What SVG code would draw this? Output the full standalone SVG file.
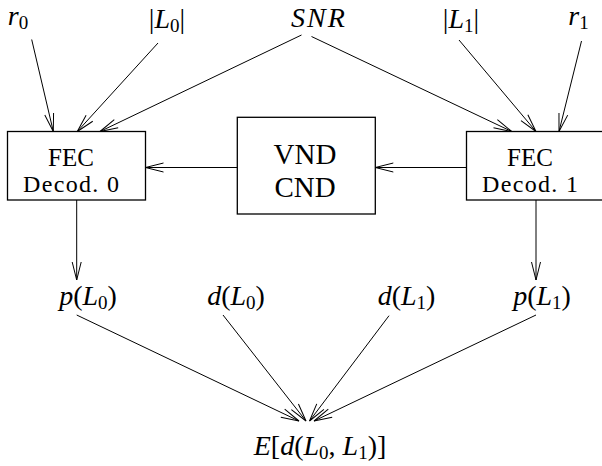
<svg xmlns="http://www.w3.org/2000/svg" width="602" height="466" viewBox="0 0 602 466">
<defs>
<marker id="ah" markerUnits="userSpaceOnUse" markerWidth="24" markerHeight="14" viewBox="-20 -7 22 14" refX="0" refY="0" orient="auto">
<path d="M-18,-4.5 L0,0 L-18,4.5" fill="none" stroke="#000" stroke-width="1"/>
</marker>
</defs>
<style>
.box{fill:#fff;stroke:#000;stroke-width:1.3}
.c line{stroke:#000;stroke-width:1;marker-end:url(#ah)}
text{font-family:'Liberation Serif','DejaVu Serif',serif;fill:#000;text-anchor:middle}
.bt{font-size:24px}
.ft{font-size:25px}
.vt{font-size:29px}
.m{font-size:28px}
.i{font-style:italic}
.s{font-size:19px}
</style>
<rect width="602" height="466" fill="#fff"/>
<g class="c">
<line x1="31.7" y1="39.5" x2="53.3" y2="131.5"/>
<line x1="158" y1="43" x2="77.3" y2="131.5"/>
<line x1="301.5" y1="35" x2="100" y2="131.5"/>
<line x1="311.5" y1="36.5" x2="511.7" y2="131.5"/>
<line x1="459" y1="40" x2="536" y2="131.5"/>
<line x1="581.5" y1="41" x2="559" y2="131.5"/>
<line x1="466.5" y1="167.5" x2="375.3" y2="167.5"/>
<line x1="237.3" y1="167.5" x2="145.5" y2="167.5"/>
<line x1="76.7" y1="200" x2="76.7" y2="280"/>
<line x1="536" y1="200" x2="536" y2="280"/>
<line x1="76.7" y1="315" x2="299" y2="421"/>
<line x1="223" y1="315" x2="306" y2="421"/>
<line x1="389" y1="315.7" x2="309.5" y2="421"/>
<line x1="536" y1="315" x2="314" y2="421"/>
</g>
<g id="fec0">
<rect class="box" x="7.5" y="131.5" width="138" height="68.5"/>
<text class="ft" x="71" y="166">FEC</text>
<text class="bt" x="71" y="192" textLength="96">Decod. 0</text>
</g>
<g id="vnd">
<rect class="box" x="237.3" y="117.3" width="138" height="96.7"/>
<text class="vt" x="305" y="164">VND</text>
<text class="vt" x="305" y="197">CND</text>
</g>
<g id="fec1">
<rect class="box" x="466.5" y="131.5" width="138" height="68.5"/>
<text class="ft" x="530" y="166">FEC</text>
<text class="bt" x="530" y="192" textLength="96">Decod. 1</text>
</g>
<g id="r0"><text class="m" x="18" y="25"><tspan class="i">r</tspan><tspan class="s" dy="4">0</tspan></text></g>
<g id="absL0"><text class="m" x="167" y="28">|<tspan class="i">L</tspan><tspan class="s" dy="4">0</tspan><tspan dy="-4">|</tspan></text></g>
<g id="snr"><text class="m i" x="319" y="27" letter-spacing="2">SNR</text></g>
<g id="absL1"><text class="m" x="461" y="28">|<tspan class="i">L</tspan><tspan class="s" dy="4">1</tspan><tspan dy="-4">|</tspan></text></g>
<g id="r1"><text class="m" x="578.5" y="25"><tspan class="i">r</tspan><tspan class="s" dy="4">1</tspan></text></g>
<g id="pL0"><text class="m" x="88" y="305"><tspan class="i">p</tspan>(<tspan class="i">L</tspan><tspan class="s" dy="4">0</tspan><tspan dy="-4">)</tspan></text></g>
<g id="dL0"><text class="m" x="236" y="305"><tspan class="i">d</tspan>(<tspan class="i">L</tspan><tspan class="s" dy="4">0</tspan><tspan dy="-4">)</tspan></text></g>
<g id="dL1"><text class="m" x="406.5" y="305"><tspan class="i">d</tspan>(<tspan class="i">L</tspan><tspan class="s" dy="4">1</tspan><tspan dy="-4">)</tspan></text></g>
<g id="pL1"><text class="m" x="542" y="305"><tspan class="i">p</tspan>(<tspan class="i">L</tspan><tspan class="s" dy="4">1</tspan><tspan dy="-4">)</tspan></text></g>
<g id="E"><text class="m" x="320" y="455"><tspan class="i">E</tspan>[<tspan class="i">d</tspan>(<tspan class="i">L</tspan><tspan class="s" dy="4">0</tspan><tspan dy="-4">, </tspan><tspan class="i">L</tspan><tspan class="s" dy="4">1</tspan><tspan dy="-4">)]</tspan></text></g>
</svg>
